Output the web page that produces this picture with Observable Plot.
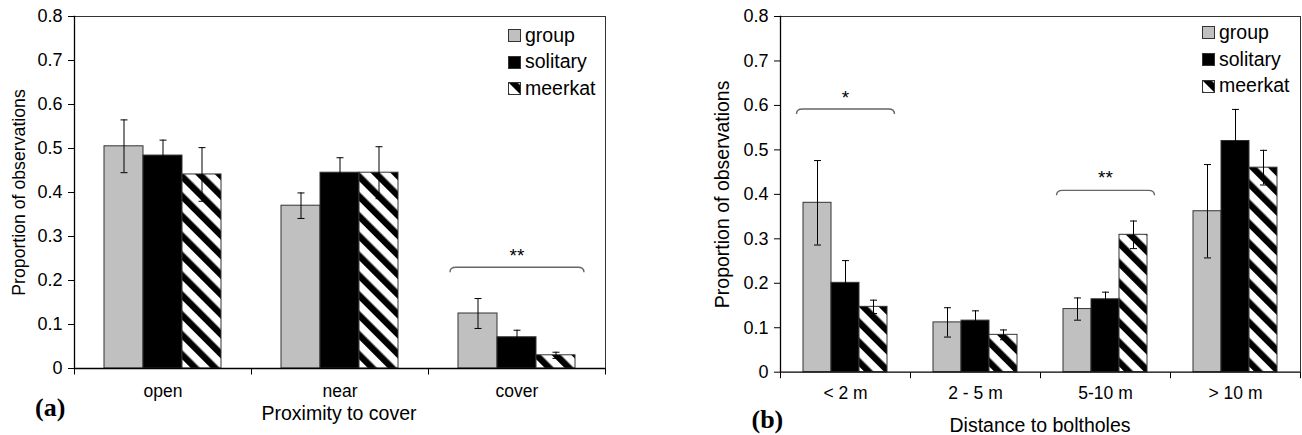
<!DOCTYPE html>
<html>
<head>
<meta charset="utf-8">
<script src="https://cdn.jsdelivr.net/npm/d3@7"></script>
<script src="https://cdn.jsdelivr.net/npm/@observablehq/plot@0.6"></script>
<style>
  html, body { margin: 0; padding: 0; background: #fff; }
  #figure { position: relative; width: 1302px; height: 435px; overflow: hidden; font-family: "Liberation Sans", Arial, sans-serif; color: #000; }
  .panel { position: absolute; top: 0; }
  .panel svg { display: block; }
  .note { position: absolute; line-height: 1; white-space: nowrap; }
  .xtitle { font-size: 19.5px; transform: translateX(-50%); }
  .tag { font-family: "Liberation Serif", "Times New Roman", serif; font-weight: bold; font-size: 26px; }
  .legend-row { position: absolute; display: flex; align-items: center; height: 20px; font-size: 19.5px; line-height: 1; white-space: nowrap; }
  .legend-row svg { display: block; margin-right: 4px; }
</style>
</head>
<body>
<svg width="0" height="0" style="position:absolute">
  <defs>
    <pattern id="meerkatHatch" patternUnits="userSpaceOnUse" width="14" height="14" patternTransform="rotate(-45)">
      <rect width="14" height="14" fill="#fff"></rect>
      <rect width="6.5" height="14" fill="#000"></rect>
    </pattern>
  </defs>
</svg>
<div id="figure"></div>
<script>
// Social groups compared in both panels
const seriesNames = ["group", "solitary", "meerkat"];

// Shared y axis
const yTicks = [0, 0.1, 0.2, 0.3, 0.4, 0.5, 0.6, 0.7, 0.8];
const yTickLabels = ["0", "0.1", "0.2", "0.3", "0.4", "0.5", "0.6", "0.7", "0.8"];

// (a) Proximity to cover: mean proportions and standard errors
const coverCategories = ["open", "near", "cover"];
const coverGroup = [0.505, 0.370, 0.125];
const coverGroupSE = [0.060, 0.029, 0.034];
const coverSolitary = [0.484, 0.445, 0.071];
const coverSolitarySE = [0.035, 0.034, 0.016];
const coverMeerkat = [0.441, 0.445, 0.030];
const coverMeerkatSE = [0.061, 0.059, 0.007];
const coverSignificance = [{category: "cover", label: "**", bracketAt: 0.230, labelAt: 0.256}];

// (b) Distance to boltholes: mean proportions and standard errors
const boltholeCategories = ["< 2 m", "2 - 5 m", "5-10 m", "> 10 m"];
const boltholeGroup = [0.381, 0.112, 0.142, 0.362];
const boltholeGroupSE = [0.095, 0.033, 0.025, 0.105];
const boltholeSolitary = [0.201, 0.116, 0.164, 0.520];
const boltholeSolitarySE = [0.050, 0.022, 0.016, 0.071];
const boltholeMeerkat = [0.147, 0.084, 0.309, 0.460];
const boltholeMeerkatSE = [0.015, 0.011, 0.031, 0.039];
const boltholeSignificance = [
  {category: "< 2 m", label: "*", bracketAt: 0.592, labelAt: 0.616},
  {category: "5-10 m", label: "**", bracketAt: 0.409, labelAt: 0.438}
];

const FONT = "'Liberation Sans', Arial, sans-serif";
const fills = ["#c0c0c0", "#000000", "url(#meerkatHatch)"];

function rowsFor(categories, means, errors) {
  return seriesNames.flatMap((series, s) =>
    categories.map((category, i) => ({category, series, value: means[s][i], se: errors[s][i]}))
  );
}

// Short horizontal cap for the error bars
const capSymbol = {draw(ctx) { ctx.moveTo(-3.5, 0); ctx.lineTo(3.5, 0); }};
// Downward tick marking the boundary between categories
const boundaryTick = {draw(ctx) { ctx.moveTo(0, 0); ctx.lineTo(0, 6); }};
// Curly significance bracket spanning one category's bars
function bracketSymbol(w) {
  const h = w / 2, r = 6, drop = 5;
  return {draw(ctx) {
    ctx.moveTo(-h, drop);
    ctx.quadraticCurveTo(-h, 0, -h + r, 0);
    ctx.lineTo(h - r, 0);
    ctx.quadraticCurveTo(h, 0, h, drop);
  }};
}

function drawPanel(cfg) {
  const rows = rowsFor(cfg.categories, cfg.means, cfg.errors);
  const last = cfg.categories[cfg.categories.length - 1];
  return Plot.plot({
    width: cfg.width,
    height: 435,
    marginTop: 16,
    marginBottom: cfg.marginBottom,
    marginLeft: cfg.marginLeft,
    marginRight: cfg.marginRight,
    style: {fontFamily: FONT, fontSize: "17.5px", color: "#000", background: "transparent", overflow: "visible"},
    fx: {domain: cfg.categories, padding: 0, axis: "bottom", tickSize: 0, tickPadding: cfg.categoryPadding, label: null},
    x: {domain: seriesNames, paddingInner: 0, paddingOuter: 0.745, axis: null},
    y: {domain: [0, 0.8], axis: null},
    color: {domain: seriesNames, range: fills},
    marks: [
      Plot.axisY({ticks: yTicks, tickFormat: (d) => yTickLabels[yTicks.indexOf(d)], tickSize: 6, tickPadding: 6, label: null, fontSize: 18}),
      Plot.axisY({ticks: [], tickSize: 0, label: "Proportion of observations", labelAnchor: "center",
                  labelOffset: cfg.labelOffset, labelArrow: "none", fontSize: cfg.yTitleSize}),
      Plot.barY(rows, {fx: "category", x: "series", y: "value", fill: "series", stroke: "#333", strokeWidth: 1}),
      Plot.ruleX(rows, {fx: "category", x: "series", y1: (d) => d.value - d.se, y2: (d) => d.value + d.se, stroke: "#000", strokeWidth: 1}),
      Plot.dot(rows, {fx: "category", x: "series", y: (d) => d.value + d.se, symbol: capSymbol, fill: "none", stroke: "#000", strokeWidth: 1}),
      Plot.dot(rows, {fx: "category", x: "series", y: (d) => d.value - d.se, symbol: capSymbol, fill: "none", stroke: "#000", strokeWidth: 1}),
      Plot.ruleY([0.8], {stroke: "#333", strokeWidth: 1}),
      Plot.ruleY([0], {stroke: "#000", strokeWidth: 1.3}),
      Plot.frame({anchor: "left", facetAnchor: "left", stroke: "#000", strokeWidth: 1.3}),
      Plot.frame({anchor: "right", facetAnchor: "right", stroke: "#333", strokeWidth: 1}),
      Plot.dot(cfg.categories, {fx: (d) => d, frameAnchor: "bottom-left", symbol: boundaryTick, fill: "none", stroke: "#000", strokeWidth: 1}),
      Plot.dot([last], {fx: (d) => d, frameAnchor: "bottom-right", symbol: boundaryTick, fill: "none", stroke: "#000", strokeWidth: 1}),
      Plot.dot(cfg.significance, {fx: "category", y: "bracketAt", frameAnchor: "middle", symbol: bracketSymbol(cfg.bracketWidth),
                                  fill: "none", stroke: "#666", strokeWidth: 1.4}),
      Plot.text(cfg.significance, {fx: "category", y: "labelAt", text: "label", frameAnchor: "middle", fontSize: 19})
    ]
  });
}

function addLegend(container, left, centers) {
  seriesNames.forEach((name, i) => {
    const row = document.createElement("div");
    row.className = "legend-row";
    row.style.left = left + "px";
    row.style.top = (centers[i] - 10) + "px";
    row.innerHTML =
      `<svg width="13" height="13"><rect x="0.5" y="0.5" width="12" height="12" fill="${fills[i]}" stroke="#333" stroke-width="1"></rect></svg><span>${name}</span>`;
    container.appendChild(row);
  });
}

function addNote(container, cls, text, left, top) {
  const el = document.createElement("div");
  el.className = "note " + cls;
  el.textContent = text;
  el.style.left = left + "px";
  el.style.top = top + "px";
  container.appendChild(el);
}

const figure = document.getElementById("figure");

// Panel (a)
const panelA = document.createElement("div");
panelA.className = "panel";
panelA.style.left = "0px";
panelA.appendChild(drawPanel({
  categories: coverCategories,
  means: [coverGroup, coverSolitary, coverMeerkat],
  errors: [coverGroupSE, coverSolitarySE, coverMeerkatSE],
  significance: coverSignificance,
  width: 640, marginLeft: 73, marginRight: 35, marginBottom: 67,
  categoryPadding: 16.5, labelOffset: 62, yTitleSize: 17.7, bracketWidth: 134
}));
figure.appendChild(panelA);

// Panel (b)
const panelB = document.createElement("div");
panelB.className = "panel";
panelB.style.left = "650px";
panelB.appendChild(drawPanel({
  categories: boltholeCategories,
  means: [boltholeGroup, boltholeSolitary, boltholeMeerkat],
  errors: [boltholeGroupSE, boltholeSolitarySE, boltholeMeerkatSE],
  significance: boltholeSignificance,
  width: 652, marginLeft: 129, marginRight: 1, marginBottom: 63.3,
  categoryPadding: 14.5, labelOffset: 65, yTitleSize: 19.5, bracketWidth: 98
}));
figure.appendChild(panelB);

addLegend(figure, 508, [35.5, 62.2, 88.8]);
addLegend(figure, 1202, [32.7, 59.3, 86]);

addNote(figure, "xtitle", "Proximity to cover", 339, 403.5);
addNote(figure, "xtitle", "Distance to boltholes", 1040, 415.5);
addNote(figure, "tag", "(a)", 35, 395);
addNote(figure, "tag", "(b)", 751.5, 406.5);
</script>
</body>
</html>
